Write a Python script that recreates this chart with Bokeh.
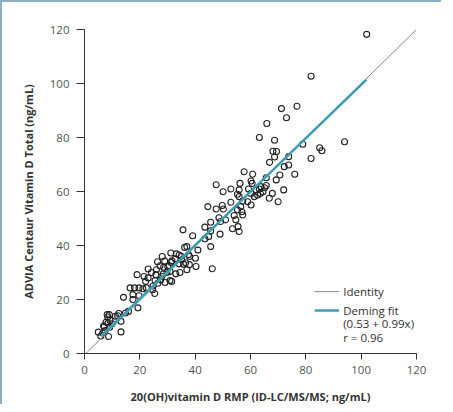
from bokeh.plotting import figure
from bokeh.models import FixedTicker, Range1d, Label
from bokeh.embed import file_html
from bokeh.resources import INLINE

# RMP (x) vs ADVIA Centaur (y), ng/mL
x_vals = [102.0, 81.9, 76.8, 71.2, 73.0, 65.9, 63.2, 68.7, 94.0, 78.9,
          85.0, 85.8, 68.1, 69.4, 68.7, 73.8, 81.9, 66.9, 73.8, 72.2,
          76.0, 70.6, 57.7, 60.8, 65.7, 69.3, 56.2, 60.2, 60.6, 47.6,
          52.9, 55.9, 59.3, 62.0, 63.2, 63.8, 65.1, 65.7, 72.0, 50.1,
          55.3, 55.9, 60.2, 61.4, 62.6, 63.6, 64.5, 67.9, 66.8, 52.9,
          57.2, 59.0, 60.2, 56.5, 70.0, 55.3, 56.9, 57.2, 54.1,
          44.6, 47.6, 50.2, 49.8, 48.6, 49.2, 51.0, 45.6, 43.5, 53.5,
          55.5, 55.9, 54.7, 49.0, 45.6, 44.9, 35.6, 39.1, 43.5, 45.6,
          41.0, 37.0, 36.2, 37.6, 38.0, 40.1, 33.2, 34.2, 35.0, 32.8,
          35.2, 35.8, 36.6, 37.9, 37.0, 40.3, 46.2, 31.2, 28.1, 29.0,
          30.7, 28.6, 27.3, 26.4, 30.9, 29.8, 28.5, 27.9, 30.9, 31.5,
          29.1, 33.0, 34.5, 23.0, 25.8, 24.2, 23.0, 22.1, 25.5, 26.5,
          24.6, 25.4, 24.8, 27.5, 21.1, 22.4, 19.7, 18.1, 16.5, 19.0,
          17.5, 17.5, 19.7, 19.3, 15.9, 14.8, 14.1, 12.0, 11.2, 12.4,
          13.2, 13.2, 9.0, 8.2, 8.4, 7.8, 9.2, 8.5, 7.1, 6.9,
          9.1, 5.0, 5.9, 6.6, 8.7, 7.5, 10.0, 31.6, 21.5, 26.0,
          30.1, 31.3, 34.2]
y_vals = [118.2, 102.7, 91.6, 90.7, 87.3, 85.2, 80.0, 79.0, 78.4, 77.5,
          76.2, 75.1, 74.9, 74.8, 72.8, 72.9, 72.2, 70.8, 69.8, 69.2,
          66.4, 66.1, 67.3, 66.4, 65.1, 64.3, 63.0, 63.9, 63.0, 62.5,
          60.9, 60.6, 60.9, 60.6, 60.9, 61.8, 61.4, 62.2, 60.6, 59.9,
          59.0, 58.1, 59.3, 58.1, 58.7, 59.3, 59.9, 59.3, 57.5, 56.0,
          56.5, 56.2, 55.0, 54.4, 56.2, 53.2, 52.5, 51.3, 51.1,
          54.4, 53.5, 53.5, 54.8, 50.3, 48.9, 49.5, 48.6, 46.8, 46.2,
          47.0, 45.2, 49.5, 44.2, 45.4, 43.3, 45.8, 43.6, 42.5, 39.6,
          38.3, 39.6, 39.3, 36.6, 35.9, 35.3, 36.9, 36.5, 36.0, 35.1,
          34.7, 33.1, 33.6, 32.9, 31.0, 32.2, 31.4, 37.2, 35.9, 34.2,
          32.5, 31.9, 32.5, 34.0, 30.4, 30.0, 29.5, 28.5, 27.0, 26.7,
          26.3, 29.5, 30.0, 31.3, 29.2, 30.0, 28.0, 26.7, 27.0, 26.0,
          23.6, 22.2, 25.0, 27.2, 24.0, 24.3, 24.3, 24.3, 24.3, 29.2,
          21.8, 20.0, 21.4, 16.9, 15.6, 15.0, 20.8, 14.0, 13.8, 14.8,
          11.9, 8.0, 14.4, 14.4, 13.5, 11.6, 12.2, 11.3, 9.8, 10.3,
          9.7, 7.9, 6.5, 7.6, 6.3, 8.5, 11.0, 34.3, 28.5, 31.0,
          32.2, 33.7, 33.2]

identity_x = [0.5, 120]
identity_y = [0, 120]
deming_intercept = 0.53
deming_slope = 0.99
deming_x = [6.0, 101.9]
deming_y = [deming_intercept + deming_slope * v for v in deming_x]

ticks = [0, 20, 40, 60, 80, 100, 120]

FONT = "Open Sans"
TEAL = "#3a9db3"
GREY = "#7d8a96"

p = figure(width=441, height=404, output_backend="svg", toolbar_location=None,
           x_range=Range1d(0, 120), y_range=Range1d(0, 120),
           min_border_left=82, min_border_right=27, min_border_top=27,
           min_border_bottom=44)
p.styles = {"border-top": "2px solid #8cb0c9", "border-left": "2px solid #8cb0c9"}
p.outline_line_color = None
p.grid.visible = False
p.background_fill_color = "white"

p.xaxis.axis_label = "20(OH)vitamin D RMP (ID-LC/MS/MS; ng/mL)"
p.yaxis.axis_label = "ADVIA Centaur Vitamin D Total (ng/mL)"
for ax in (p.xaxis[0], p.yaxis[0]):
    ax.ticker = FixedTicker(ticks=ticks)
    ax.minor_tick_line_color = None
    ax.major_tick_in = 0
    ax.axis_line_color = "#333333"
    ax.major_tick_line_color = "#333333"
    ax.major_label_text_font = FONT
    ax.major_label_text_font_size = "11.5px"
    ax.major_label_text_color = "#555555"
    ax.axis_label_text_font = FONT
    ax.axis_label_text_font_size = "11px"
    ax.axis_label_text_font_style = "bold"
    ax.axis_label_text_color = "#333333"
p.yaxis.major_tick_out = 8
p.xaxis.major_tick_out = 6
p.yaxis.major_label_standoff = 7
p.xaxis.major_label_standoff = 6
p.yaxis.axis_label_standoff = 11
p.xaxis.axis_label_standoff = 12

p.scatter(x_vals, y_vals, size=6, marker="circle", fill_color=None,
          line_color="#222222", line_width=1.1)
p.line(identity_x, identity_y, line_color=GREY, line_width=1)
p.line(deming_x, deming_y, line_color=TEAL, line_width=2.5)

# legend
p.line([83.2, 92.0], [22.9, 22.9], line_color=GREY, line_width=1)
p.line([83.2, 92.0], [15.9, 15.9], line_color=TEAL, line_width=2.5)
legend_texts = ["Identity", "Deming fit", "(0.53 + 0.99x)", "r = 0.96"]
legend_ys = [22.9, 15.9, 11.0, 5.9]
for t, yy in zip(legend_texts, legend_ys):
    p.add_layout(Label(x=93.5, y=yy, text=t, text_font=FONT, text_font_size="11.5px",
                       text_color="#333333", text_baseline="middle"))

open("out.html", "w").write(file_html(p, INLINE))
